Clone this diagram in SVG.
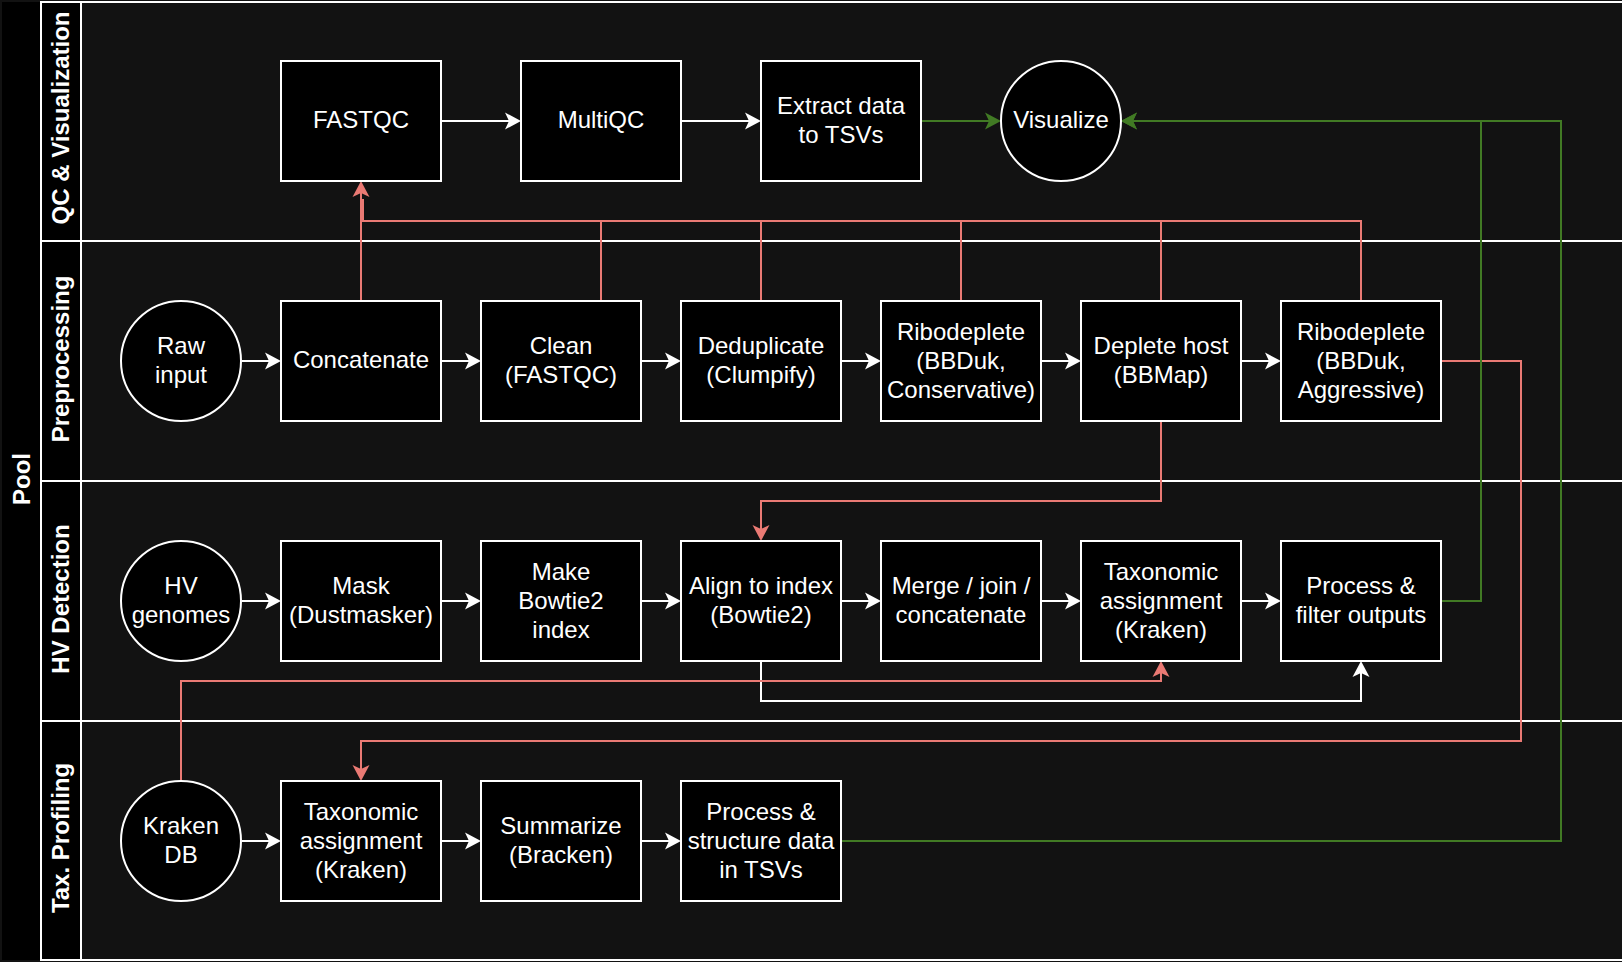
<svg xmlns="http://www.w3.org/2000/svg" width="1622" height="962" viewBox="0 0 1622 962">
  <defs>
    <style>
      .lane { fill: #121212; stroke: #ffffff; stroke-width: 2; }
      .lanehead { fill: #000000; stroke: #ffffff; stroke-width: 2; }
      .poolhead { fill: #000000; stroke: none; }
      .node { fill: #000000; stroke: #ffffff; stroke-width: 2; }
      .lbl { font-family: "Liberation Sans", Arial, Helvetica, sans-serif; font-size: 24px; fill: #ffffff; text-anchor: middle; }
      .title { font-family: "Liberation Sans", Arial, Helvetica, sans-serif; font-size: 24px; font-weight: bold; fill: #ffffff; text-anchor: middle; }
      .w { fill: none; stroke: #ffffff; stroke-width: 2; marker-end: url(#aw); }
      .r { fill: none; stroke: #ea7a74; stroke-width: 2; }
      .ra { marker-end: url(#ar); }
      .g { fill: none; stroke: #417a24; stroke-width: 2; marker-end: url(#ag); }
    </style>
    <marker id="aw" markerUnits="userSpaceOnUse" markerWidth="20" markerHeight="20" refX="0" refY="0" orient="auto" overflow="visible">
      <path d="M3,0 L-13,-8.5 L-9,0 L-13,8.5 Z" fill="#ffffff"/>
    </marker>
    <marker id="ar" markerUnits="userSpaceOnUse" markerWidth="20" markerHeight="20" refX="0" refY="0" orient="auto" overflow="visible">
      <path d="M3,0 L-13,-8.5 L-9,0 L-13,8.5 Z" fill="#ea7a74"/>
    </marker>
    <marker id="ag" markerUnits="userSpaceOnUse" markerWidth="20" markerHeight="20" refX="0" refY="0" orient="auto" overflow="visible">
      <path d="M3,0 L-13,-8.5 L-9,0 L-13,8.5 Z" fill="#417a24"/>
    </marker>
  </defs>

  <rect x="0" y="0" width="1622" height="962" fill="#121212"/>

  <!-- pool and swimlanes -->
  <g id="pool">
    <rect class="poolhead" x="2" y="2" width="39" height="958"/>
    <text class="title" transform="translate(30,479) rotate(-90)">Pool</text>
  </g>
  <g id="lane-qc">
    <rect class="lane" x="41" y="2" width="1590" height="239"/>
    <rect class="lanehead" x="41" y="2" width="40" height="239"/>
    <text class="title" transform="translate(69,118) rotate(-90)">QC &amp; Visualization</text>
  </g>
  <g id="lane-pre">
    <rect class="lane" x="41" y="241" width="1590" height="240"/>
    <rect class="lanehead" x="41" y="241" width="40" height="240"/>
    <text class="title" transform="translate(69,359) rotate(-90)">Preprocessing</text>
  </g>
  <g id="lane-hv">
    <rect class="lane" x="41" y="481" width="1590" height="240"/>
    <rect class="lanehead" x="41" y="481" width="40" height="240"/>
    <text class="title" transform="translate(69,599) rotate(-90)">HV Detection</text>
  </g>
  <g id="lane-tax">
    <rect class="lane" x="41" y="721" width="1590" height="239"/>
    <rect class="lanehead" x="41" y="721" width="40" height="239"/>
    <text class="title" transform="translate(69,838) rotate(-90)">Tax. Profiling</text>
  </g>

  <!-- connectors -->
  <g id="connectors">
    <!-- QC row -->
    <path class="w" d="M442,121 H518"/>
    <path class="w" d="M682,121 H758"/>
    <path class="g" d="M922,121 H998"/>
    <!-- preprocessing row -->
    <path class="w" d="M242,361 H278"/>
    <path class="w" d="M442,361 H478"/>
    <path class="w" d="M642,361 H678"/>
    <path class="w" d="M842,361 H878"/>
    <path class="w" d="M1042,361 H1078"/>
    <path class="w" d="M1242,361 H1278"/>
    <!-- HV detection row -->
    <path class="w" d="M242,601 H278"/>
    <path class="w" d="M442,601 H478"/>
    <path class="w" d="M642,601 H678"/>
    <path class="w" d="M842,601 H878"/>
    <path class="w" d="M1042,601 H1078"/>
    <path class="w" d="M1242,601 H1278"/>
    <path class="w" d="M761,662 V701 H1361 V664"/>
    <!-- taxonomic profiling row -->
    <path class="w" d="M242,841 H278"/>
    <path class="w" d="M442,841 H478"/>
    <path class="w" d="M642,841 H678"/>

    <!-- QC feeds from preprocessing steps into FASTQC -->
    <path class="r" d="M1361,300 V221 H363 V199"/>
    <path class="r" d="M601,300 V221"/>
    <path class="r" d="M761,300 V221"/>
    <path class="r" d="M961,300 V221"/>
    <path class="r" d="M1161,300 V221"/>
    <path class="r ra" d="M361,300 V184"/>
    <!-- host-depleted reads to alignment -->
    <path class="r ra" d="M1161,422 V501 H761 V538"/>
    <!-- ribodepleted reads to taxonomic profiling -->
    <path class="r ra" d="M1442,361 H1521 V741 H361 V778"/>
    <!-- Kraken DB to HV taxonomic assignment -->
    <path class="r ra" d="M181,780 V681 H1161 V664"/>

    <!-- outputs to visualization -->
    <path class="g" d="M1442,601 H1481 V121 H1124"/>
    <path class="g" d="M842,841 H1561 V121 H1124"/>
  </g>

  <!-- QC & visualization nodes -->
  <g id="fastqc">
    <rect class="node" x="281" y="61" width="160" height="120"/>
    <text class="lbl" x="361" y="128">FASTQC</text>
  </g>
  <g id="multiqc">
    <rect class="node" x="521" y="61" width="160" height="120"/>
    <text class="lbl" x="601" y="128">MultiQC</text>
  </g>
  <g id="extract">
    <rect class="node" x="761" y="61" width="160" height="120"/>
    <text class="lbl" x="841" y="114">Extract data</text>
    <text class="lbl" x="841" y="143">to TSVs</text>
  </g>
  <g id="visualize">
    <circle class="node" cx="1061" cy="121" r="60"/>
    <text class="lbl" x="1061" y="128">Visualize</text>
  </g>

  <!-- preprocessing nodes -->
  <g id="raw-input">
    <circle class="node" cx="181" cy="361" r="60"/>
    <text class="lbl" x="181" y="354">Raw</text>
    <text class="lbl" x="181" y="383">input</text>
  </g>
  <g id="concatenate">
    <rect class="node" x="281" y="301" width="160" height="120"/>
    <text class="lbl" x="361" y="368">Concatenate</text>
  </g>
  <g id="clean">
    <rect class="node" x="481" y="301" width="160" height="120"/>
    <text class="lbl" x="561" y="354">Clean</text>
    <text class="lbl" x="561" y="383">(FASTQC)</text>
  </g>
  <g id="deduplicate">
    <rect class="node" x="681" y="301" width="160" height="120"/>
    <text class="lbl" x="761" y="354">Deduplicate</text>
    <text class="lbl" x="761" y="383">(Clumpify)</text>
  </g>
  <g id="ribodeplete-conservative">
    <rect class="node" x="881" y="301" width="160" height="120"/>
    <text class="lbl" x="961" y="339.5">Ribodeplete</text>
    <text class="lbl" x="961" y="368.5">(BBDuk,</text>
    <text class="lbl" x="961" y="397.5">Conservative)</text>
  </g>
  <g id="deplete-host">
    <rect class="node" x="1081" y="301" width="160" height="120"/>
    <text class="lbl" x="1161" y="354">Deplete host</text>
    <text class="lbl" x="1161" y="383">(BBMap)</text>
  </g>
  <g id="ribodeplete-aggressive">
    <rect class="node" x="1281" y="301" width="160" height="120"/>
    <text class="lbl" x="1361" y="339.5">Ribodeplete</text>
    <text class="lbl" x="1361" y="368.5">(BBDuk,</text>
    <text class="lbl" x="1361" y="397.5">Aggressive)</text>
  </g>

  <!-- HV detection nodes -->
  <g id="hv-genomes">
    <circle class="node" cx="181" cy="601" r="60"/>
    <text class="lbl" x="181" y="594">HV</text>
    <text class="lbl" x="181" y="623">genomes</text>
  </g>
  <g id="mask">
    <rect class="node" x="281" y="541" width="160" height="120"/>
    <text class="lbl" x="361" y="594">Mask</text>
    <text class="lbl" x="361" y="623">(Dustmasker)</text>
  </g>
  <g id="make-index">
    <rect class="node" x="481" y="541" width="160" height="120"/>
    <text class="lbl" x="561" y="579.5">Make</text>
    <text class="lbl" x="561" y="608.5">Bowtie2</text>
    <text class="lbl" x="561" y="637.5">index</text>
  </g>
  <g id="align">
    <rect class="node" x="681" y="541" width="160" height="120"/>
    <text class="lbl" x="761" y="594">Align to index</text>
    <text class="lbl" x="761" y="623">(Bowtie2)</text>
  </g>
  <g id="merge">
    <rect class="node" x="881" y="541" width="160" height="120"/>
    <text class="lbl" x="961" y="594">Merge / join /</text>
    <text class="lbl" x="961" y="623">concatenate</text>
  </g>
  <g id="hv-kraken">
    <rect class="node" x="1081" y="541" width="160" height="120"/>
    <text class="lbl" x="1161" y="579.5">Taxonomic</text>
    <text class="lbl" x="1161" y="608.5">assignment</text>
    <text class="lbl" x="1161" y="637.5">(Kraken)</text>
  </g>
  <g id="hv-process">
    <rect class="node" x="1281" y="541" width="160" height="120"/>
    <text class="lbl" x="1361" y="594">Process &amp;</text>
    <text class="lbl" x="1361" y="623">filter outputs</text>
  </g>

  <!-- taxonomic profiling nodes -->
  <g id="kraken-db">
    <circle class="node" cx="181" cy="841" r="60"/>
    <text class="lbl" x="181" y="834">Kraken</text>
    <text class="lbl" x="181" y="863">DB</text>
  </g>
  <g id="tax-kraken">
    <rect class="node" x="281" y="781" width="160" height="120"/>
    <text class="lbl" x="361" y="819.5">Taxonomic</text>
    <text class="lbl" x="361" y="848.5">assignment</text>
    <text class="lbl" x="361" y="877.5">(Kraken)</text>
  </g>
  <g id="bracken">
    <rect class="node" x="481" y="781" width="160" height="120"/>
    <text class="lbl" x="561" y="834">Summarize</text>
    <text class="lbl" x="561" y="863">(Bracken)</text>
  </g>
  <g id="tax-process">
    <rect class="node" x="681" y="781" width="160" height="120"/>
    <text class="lbl" x="761" y="819.5">Process &amp;</text>
    <text class="lbl" x="761" y="848.5">structure data</text>
    <text class="lbl" x="761" y="877.5">in TSVs</text>
  </g>
</svg>
